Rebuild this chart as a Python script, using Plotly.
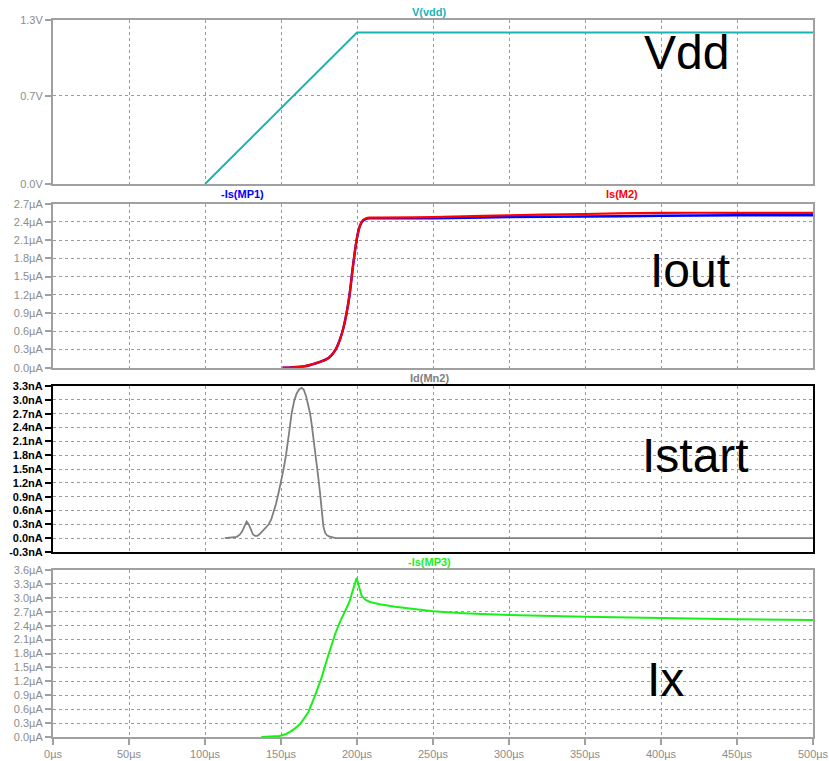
import plotly.graph_objects as go

# ---- simulation traces (time in µs) ----
t_vdd = [100, 200, 500]
v_vdd = [0.0, 1.2, 1.2]                           # V(vdd), volts (0 V before the ramp sits on the frame)

t_out = [151, 155, 160, 165, 170, 175, 180, 183, 186, 189, 191, 193, 195,
         197, 199, 200.5, 202, 204, 206, 208, 212, 250, 300, 350, 400, 450, 500]
is_mp1 = [0.0, 0.0, 0.01, 0.02, 0.05, 0.09, 0.14, 0.2, 0.3, 0.48, 0.65, 0.88, 1.18,
          1.6, 1.98, 2.2, 2.34, 2.42, 2.45, 2.46, 2.46, 2.46, 2.48, 2.49, 2.50, 2.51, 2.51]   # -Is(MP1), µA
is_m2 = [0.0, 0.0, 0.01, 0.02, 0.05, 0.09, 0.14, 0.2, 0.3, 0.48, 0.65, 0.88, 1.18,
         1.6, 1.98, 2.2, 2.34, 2.43, 2.46, 2.47, 2.47, 2.48, 2.51, 2.53, 2.55, 2.55, 2.55]    # Is(M2), µA

t_start = [113, 118, 121, 123, 124.5, 126, 127.4, 128.8, 130.2, 131.6, 133, 134.5, 136,
           137.5, 139.5, 141.7, 143.5, 145, 146.7, 148.3, 150, 151.6, 153.3, 154.9, 156,
           157, 158.7, 160.3, 162, 163.6, 165, 166.5, 168, 169.1, 170.2, 171.3, 172.4,
           173.5, 174.6, 175.7, 176.8, 177.9, 179, 180, 181.5, 183.4, 186, 500]
id_mn2 = [0.0, 0.01, 0.03, 0.08, 0.15, 0.26, 0.36, 0.3, 0.17, 0.08, 0.05, 0.05, 0.09,
          0.14, 0.2, 0.29, 0.4, 0.54, 0.74, 0.97, 1.22, 1.48, 1.8, 2.13, 2.45,
          2.71, 2.98, 3.14, 3.23, 3.26, 3.22, 3.08, 2.9, 2.71, 2.47, 2.2, 1.92,
          1.63, 1.3, 0.97, 0.58, 0.25, 0.12, 0.07, 0.04, 0.02, 0.0, 0.0]                      # Id(Mn2), nA

t_x = [137, 145, 149, 153, 156, 159, 162.5, 165, 168, 172, 176.7, 181, 185.5, 189, 191,
       192, 194, 195.4, 196.5, 198, 199.8, 201, 202, 203, 204.5, 206, 208.5, 211, 215,
       225, 237, 250, 270, 300, 350, 400, 450, 500]
is_mp3 = [0.0, 0.004, 0.02, 0.06, 0.11, 0.18, 0.28, 0.39, 0.54, 0.86, 1.28, 1.75, 2.21, 2.5, 2.62,
          2.7, 2.84, 2.95, 3.08, 3.25, 3.43, 3.28, 3.14, 3.05, 2.99, 2.95, 2.91, 2.89, 2.86,
          2.81, 2.76, 2.71, 2.67, 2.63, 2.59, 2.56, 2.54, 2.52]                                # -Is(MP3), µA

# ---- axis ticks ----
x_ticks = [0, 50, 100, 150, 200, 250, 300, 350, 400, 450, 500]
x_ticktext = [f"{v}µs" for v in x_ticks]
v_ticks = [0.0, 0.7, 1.3]
v_ticktext = [f"{v:.1f}V" for v in v_ticks]
iout_ticks = [round(0.3 * k, 1) for k in range(10)]
iout_ticktext = [f"{v:.1f}µA" for v in iout_ticks]
istart_ticks = [round(-0.3 + 0.3 * k, 1) for k in range(13)]
istart_ticktext = [f"{v:.1f}nA" for v in istart_ticks]
ix_ticks = [round(0.3 * k, 1) for k in range(13)]
ix_ticktext = [f"{v:.1f}µA" for v in ix_ticks]

TEAL = "#19b4b4"
BLUE = "#0000ff"
RED = "#ff0000"
GREY_TRACE = "#7f7f7f"
GREEN = "#19f019"
FRAME = "#a0a0a0"
GRID = "#9a9a9a"
LABEL = "#8c8c8c"
FONT = "Liberation Sans, Arial, sans-serif"

fig = go.Figure()
fig.add_trace(go.Scatter(x=t_vdd, y=v_vdd, mode="lines", line=dict(color=TEAL, width=2),
                         xaxis="x", yaxis="y", name="V(vdd)"))
fig.add_trace(go.Scatter(x=t_out, y=is_mp1, mode="lines", line=dict(color=BLUE, width=2.5, shape="spline"),
                         xaxis="x2", yaxis="y2", name="-Is(MP1)"))
fig.add_trace(go.Scatter(x=t_out, y=is_m2, mode="lines", line=dict(color=RED, width=2.2, shape="spline"),
                         xaxis="x2", yaxis="y2", name="Is(M2)"))
fig.add_trace(go.Scatter(x=t_start, y=id_mn2, mode="lines", line=dict(color=GREY_TRACE, width=1.8),
                         xaxis="x3", yaxis="y3", name="Id(Mn2)"))
fig.add_trace(go.Scatter(x=t_x, y=is_mp3, mode="lines", line=dict(color=GREEN, width=2),
                         xaxis="x4", yaxis="y4", name="-Is(MP3)"))

# panel vertical extents in paper coordinates (top to bottom)
domains = [[0.7713, 1.0], [0.5151, 0.7438], [0.2580, 0.4895], [0.0, 0.2329]]


def xaxis(idx, show_labels):
    return dict(
        domain=[0, 1], anchor=f"y{idx}" if idx > 1 else "y", range=[0, 500],
        tickvals=x_ticks, ticktext=x_ticktext if show_labels else None,
        showticklabels=show_labels, ticks="outside" if show_labels else "",
        ticklen=6, tickcolor=FRAME, tickwidth=1.5, ticklabeloverflow="allow",
        tickfont=dict(family=FONT, size=11, color=LABEL),
        showgrid=True, gridcolor=GRID, griddash="3px,3px", gridwidth=1,
        showline=True, mirror=True, linecolor=FRAME if idx != 3 else "#000000", linewidth=2,
        zeroline=False, fixedrange=True, automargin=False,
        matches=None if idx == 4 else "x4",
    )


def yaxis(idx, rng, vals, text, frame_color, font_color, bold=False):
    return dict(
        domain=domains[idx - 1], anchor="x" if idx == 1 else f"x{idx}", range=rng,
        tickvals=vals, ticktext=text, ticks="outside", ticklen=6,
        tickcolor=frame_color, tickwidth=1.5, ticklabeloverflow="allow",
        tickfont=dict(family=FONT, size=11, color=font_color, weight="bold" if bold else "normal"),
        showgrid=True, gridcolor=GRID, griddash="3px,3px", gridwidth=1,
        showline=True, mirror=True, linecolor=frame_color, linewidth=2,
        zeroline=False, fixedrange=True, automargin=False,
    )


fig.update_layout(
    width=829, height=761,
    margin=dict(l=53, r=16, t=20, b=24),
    paper_bgcolor="white", plot_bgcolor="white",
    showlegend=False,
    xaxis=xaxis(1, False), xaxis2=xaxis(2, False), xaxis3=xaxis(3, False), xaxis4=xaxis(4, True),
    yaxis=yaxis(1, [0, 1.3], v_ticks, v_ticktext, FRAME, LABEL),
    yaxis2=yaxis(2, [0, 2.7], iout_ticks, iout_ticktext, FRAME, LABEL),
    yaxis3=yaxis(3, [-0.3, 3.3], istart_ticks, istart_ticktext, "#000000", "#000000", bold=True),
    yaxis4=yaxis(4, [0, 3.6], ix_ticks, ix_ticktext, FRAME, LABEL),
)

# trace names above each pane
trace_labels = [
    ("V(vdd)", 0.496, 1.0112, TEAL),
    ("-Is(MP1)", 0.249, 0.7573, BLUE),
    ("Is(M2)", 0.749, 0.7573, RED),
    ("Id(Mn2)", 0.496, 0.5007, GREY_TRACE),
    ("-Is(MP3)", 0.496, 0.2441, GREEN),
]
for text, x, y, color in trace_labels:
    fig.add_annotation(text=text, x=x, y=y, xref="paper", yref="paper", showarrow=False,
                       xanchor="center", yanchor="middle",
                       font=dict(family=FONT, size=11, color=color, weight="bold"))

# large pane captions
captions = [
    ("Vdd", 0.8336, 0.9547),
    ("Iout", 0.8382, 0.6513),
    ("Istart", 0.8460, 0.3933),
    ("Ix", 0.8053, 0.0795),
]
for text, x, y in captions:
    fig.add_annotation(text=text, x=x, y=y, xref="paper", yref="paper", showarrow=False,
                       xanchor="center", yanchor="middle",
                       font=dict(family=FONT, size=48, color="#000000"))

fig.write_html("out.html")
